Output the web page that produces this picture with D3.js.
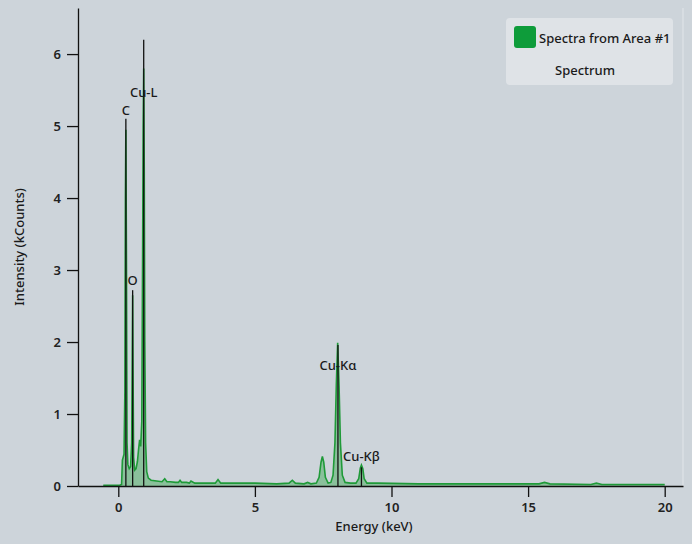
<!DOCTYPE html>
<html><head><meta charset="utf-8">
<script src="https://cdn.jsdelivr.net/npm/d3@7"></script>
<style>
html,body{margin:0;padding:0;background:#cdd4da;}
svg{display:block;font-family:"Noto Sans","Open Sans",sans-serif;}
</style></head>
<body><svg id="c" width="692" height="544"></svg>
<script>
// Spectrum (energy in keV, intensity in kCounts)
const energy = [-0.55, 0.05, 0.12, 0.15, 0.18, 0.21, 0.24, 0.26, 0.277, 0.30, 0.32, 0.35, 0.40, 0.45, 0.49, 0.51, 0.525, 0.54, 0.56, 0.60, 0.65, 0.70, 0.74, 0.78, 0.82, 0.86, 0.89, 0.91, 0.93, 0.95, 0.97, 1.00, 1.04, 1.10, 1.20, 1.40, 1.60, 1.70, 1.78, 1.90, 2.10, 2.20, 2.26, 2.32, 2.50, 2.60, 2.66, 2.80, 3.20, 3.55, 3.65, 3.75, 4.20, 5.00, 5.80, 6.25, 6.37, 6.48, 6.80, 6.93, 7.05, 7.25, 7.35, 7.42, 7.47, 7.52, 7.58, 7.68, 7.78, 7.86, 7.93, 7.98, 8.03, 8.08, 8.13, 8.20, 8.30, 8.50, 8.70, 8.80, 8.86, 8.90, 8.95, 9.00, 9.10, 9.50, 11.0, 13.0, 15.4, 15.6, 15.8, 17.3, 17.5, 17.7, 19.0, 20.0];
const counts = [0.01, 0.01, 0.02, 0.36, 0.40, 0.44, 1.30, 4.00, 4.95, 3.00, 0.60, 0.30, 0.24, 0.27, 0.60, 1.80, 2.65, 1.60, 0.40, 0.22, 0.24, 0.34, 0.50, 0.64, 0.55, 0.90, 3.20, 5.00, 5.80, 4.40, 2.00, 0.60, 0.20, 0.11, 0.08, 0.07, 0.06, 0.10, 0.06, 0.06, 0.05, 0.05, 0.08, 0.05, 0.05, 0.04, 0.07, 0.04, 0.04, 0.04, 0.09, 0.04, 0.04, 0.04, 0.03, 0.04, 0.08, 0.04, 0.03, 0.05, 0.03, 0.04, 0.12, 0.33, 0.41, 0.33, 0.12, 0.04, 0.05, 0.15, 0.60, 1.40, 1.99, 1.40, 0.60, 0.15, 0.05, 0.04, 0.04, 0.10, 0.25, 0.29, 0.24, 0.10, 0.04, 0.04, 0.03, 0.03, 0.03, 0.05, 0.03, 0.02, 0.04, 0.02, 0.02, 0.02];

// Element marker lines
const markerNames = ["C", "O", "Cu-L", "Cu-Kα", "Cu-Kβ"];
const markerEnergy = [0.277, 0.525, 0.93, 8.04, 8.90];
const markerTop = [5.10, 2.72, 6.20, 1.96, 0.26];
const markerLabelLevel = [5.22, 2.86, 5.46, 1.67, 0.41];

const xTicks = [0, 5, 10, 15, 20];
const yTicks = [0, 1, 2, 3, 4, 5, 6];
const legendTitle = "Spectra from Area #1";
const legendSub = "Spectrum";

const svg = d3.select("#c");
const x = d3.scaleLinear().domain([-1.475, 20.67]).range([78, 683]);
const y = d3.scaleLinear().domain([0, 6.64]).range([486, 8]);

const pts = energy.map((e, i) => [e, counts[i]]);

// light frame edge on right
svg.append("line").attr("x1", 683).attr("x2", 683).attr("y1", 8).attr("y2", 486)
  .attr("stroke", "#e2e6ea").attr("stroke-width", 1);

// area + line
svg.append("path").datum(pts)
  .attr("d", d3.area().x(d => x(d[0])).y0(y(0)).y1(d => y(d[1])))
  .attr("fill", "#3aa84e").attr("fill-opacity", 0.45);
svg.append("path").datum(pts)
  .attr("d", d3.line().x(d => x(d[0])).y(d => y(d[1])))
  .attr("fill", "none").attr("stroke", "#1f9a38").attr("stroke-width", 1.6);

// marker lines
svg.append("g").selectAll("line").data(markerNames).join("line")
  .attr("x1", (d, i) => x(markerEnergy[i])).attr("x2", (d, i) => x(markerEnergy[i]))
  .attr("y1", y(0)).attr("y2", (d, i) => y(markerTop[i]))
  .attr("stroke", "#111").attr("stroke-width", 1.3);
svg.append("g").selectAll("text").data(markerNames).join("text")
  .attr("x", (d, i) => x(markerEnergy[i])).attr("y", (d, i) => y(markerLabelLevel[i]))
  .attr("text-anchor", "middle").attr("dy", "0.35em")
  .attr("font-size", 13).attr("font-weight", 500).attr("fill", "#1a1a1a").text(d => d);

// axes
const xAxis = svg.append("g").attr("transform", `translate(0,${y(0)})`)
  .call(d3.axisBottom(x).tickValues(xTicks).tickSize(11).tickSizeOuter(0).tickPadding(6));
const yAxis = svg.append("g").attr("transform", `translate(${x.range()[0]},0)`)
  .call(d3.axisLeft(y).tickValues(yTicks).tickFormat(d3.format("d")).tickSize(11).tickSizeOuter(0).tickPadding(6));
[xAxis, yAxis].forEach(g => {
  g.selectAll("path,line").attr("stroke", "#111").attr("stroke-width", 1.3);
  g.selectAll("text").attr("font-size", 13).attr("fill", "#222")
    .attr("font-family", "'Noto Sans','Open Sans',sans-serif").attr("font-weight", 600);
});

svg.append("text").attr("x", 374).attr("y", 531).attr("text-anchor", "middle")
  .attr("font-size", 13).attr("font-weight", 500).attr("fill", "#1a1a1a").text("Energy (keV)");
svg.append("text").attr("transform", "translate(24,247) rotate(-90)").attr("text-anchor", "middle")
  .attr("font-size", 13).attr("font-weight", 500).attr("fill", "#1a1a1a").text("Intensity (kCounts)");

// legend
const lg = svg.append("g");
lg.append("rect").attr("x", 506).attr("y", 18).attr("width", 167).attr("height", 67).attr("rx", 4)
  .attr("fill", "#dfe3e7");
lg.append("rect").attr("x", 514).attr("y", 26).attr("width", 22).attr("height", 22).attr("rx", 3)
  .attr("fill", "#0e9c3a");
lg.append("text").attr("x", 539).attr("y", 38).attr("dy", "0.35em").attr("font-size", 13)
  .attr("font-weight", 500).attr("fill", "#1a1a1a").text(legendTitle);
lg.append("text").attr("x", 555).attr("y", 70).attr("dy", "0.35em").attr("font-size", 13)
  .attr("font-weight", 500).attr("fill", "#1a1a1a").text(legendSub);
</script></body></html>
